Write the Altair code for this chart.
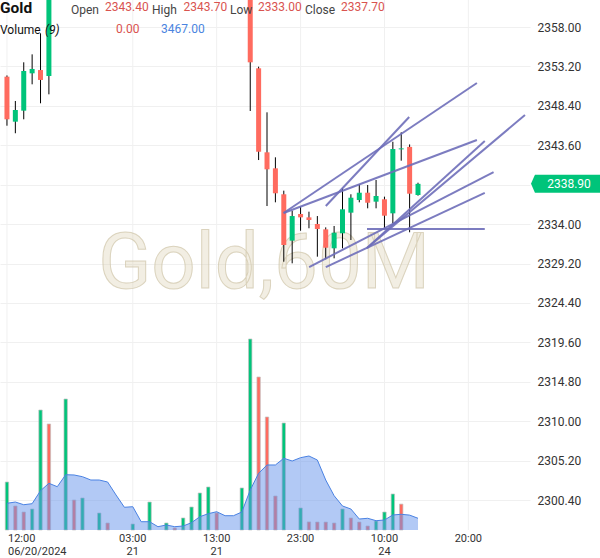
import altair as alt
import pandas as pd

# ---------------- data ----------------
idx = list(range(50))
opens = [2351.95, 2346.47, 2347.81, 2352.36, 2352.76, 2352.03, 2364.6, 2364.9, 2367.8, 2366.7,
         2367.5, 2367.3, 2367.9, 2367.4, 2367.6, 2367.5, 2367.7, 2367.6, 2366.8, 2366.9,
         2366.6, 2366.4, 2366.9, 2367.6, 2368.4, 2366.7, 2365.8, 2365.9, 2365.8, 2363.9,
         2352.97, 2342.74, 2340.79, 2337.63, 2331.98, 2335.23, 2334.82, 2334.01, 2333.36, 2331.05,
         2332.88, 2335.39, 2336.93, 2337.82, 2336.73, 2337.02, 2335.31, 2343.10, 2343.40, 2337.54]
highs = [2352.10, 2348.99, 2353.70, 2354.67, 2357.23, 2365.2, 2365.3, 2368.6, 2368.3, 2368.0,
         2367.9, 2368.2, 2368.1, 2367.8, 2367.9, 2367.9, 2368.0, 2368.9, 2367.2, 2367.4,
         2366.9, 2367.3, 2368.0, 2369.1, 2369.3, 2367.2, 2366.1, 2366.2, 2366.4, 2364.3,
         2353.17, 2347.61, 2342.13, 2338.07, 2335.63, 2336.12, 2335.51, 2334.98, 2333.60, 2333.77,
         2338.36, 2337.63, 2338.84, 2338.76, 2339.37, 2337.34, 2344.03, 2345.18, 2343.70, 2339.04]
lows = [2345.98, 2345.06, 2346.76, 2351.02, 2348.71, 2349.80, 2363.9, 2364.5, 2366.2, 2366.1,
        2367.0, 2366.8, 2367.2, 2367.0, 2367.2, 2367.1, 2367.3, 2366.4, 2366.5, 2366.3,
        2366.2, 2365.6, 2366.0, 2366.8, 2366.2, 2365.4, 2365.5, 2365.6, 2363.2, 2347.77,
        2341.80, 2336.20, 2336.65, 2329.42, 2329.22, 2333.19, 2333.49, 2330.03, 2329.71, 2329.83,
        2331.05, 2332.06, 2336.65, 2335.92, 2335.92, 2333.49, 2334.09, 2341.72, 2333.00, 2337.46]
closes = [2346.76, 2347.89, 2352.64, 2352.89, 2351.55, 2364.6, 2364.9, 2367.8, 2366.7, 2367.5,
          2367.3, 2367.9, 2367.4, 2367.6, 2367.5, 2367.7, 2367.6, 2366.8, 2366.9, 2366.6,
          2366.4, 2366.9, 2367.6, 2368.4, 2366.7, 2365.8, 2365.9, 2365.8, 2363.9, 2353.70,
          2342.81, 2340.67, 2337.75, 2331.45, 2334.98, 2334.82, 2334.50, 2333.40, 2331.12, 2332.95,
          2335.80, 2337.21, 2337.82, 2336.60, 2337.42, 2335.02, 2343.14, 2343.22, 2337.70, 2338.90]
volumes = [11180, 5590, 4190, 4890, 27960, 24700, 0, 30520, 6990, 7460,
           0, 3960, 1630, 0, 0, 1400, 0, 6520, 0, 1630,
           470, 2800, 5360, 8620, 10020, 3960, 0, 0, 9790, 44500,
           35650, 26330, 7920, 24930, 0, 5130, 1880, 1860, 1850, 1630,
           4900, 2800, 1860, 930, 2100, 4190, 8390, 6033, 0, 0]
vol_ma = [6220, 6520, 5890, 6130, 9160, 10880, 10090, 12880, 12820, 12420,
          11650, 11650, 11180, 8160, 5290, 5430, 1930, 1930, 770, 1170,
          770, 930, 1700, 3100, 3800, 4260, 3330, 3330, 4190, 9320,
          13210, 15150, 15150, 16710, 16080, 16850, 17240, 16310, 11650, 7990,
          5590, 4890, 2560, 2730, 2170, 2330, 3500, 3660, 3467, 2730]

tick_idx = [0, 15, 25, 35, 45, 55]
tick_time = ["12:00", "03:00", "13:00", "23:00", "10:00", "20:00"]
tick_date = ["06/20/2024", "21", "21", "", "24", ""]

price_ticks = [2358.00, 2353.20, 2348.40, 2343.60, 2338.80, 2334.00, 2329.20,
               2324.40, 2319.60, 2314.80, 2310.00, 2305.20, 2300.40]
last_price = 2338.90

# drawn trend lines (bar index, price)
line_x1 = [32.98, 38.01, 32.98, 42.92, 42.92, 36.02, 38.01, 42.92]
line_p1 = [2335.35, 2336.20, 2335.35, 2331.09, 2331.09, 2328.77, 2328.77, 2333.40]
line_x2 = [56.02, 47.95, 56.02, 56.96, 61.75, 58.01, 56.96, 56.96]
line_p2 = [2351.18, 2347.04, 2344.24, 2344.12, 2347.28, 2340.34, 2337.79, 2333.40]

# ---------------- styling ----------------
GREEN = "#00C47A"
RED = "#FF6B5F"
FONT = "Roboto"
W, H = 530, 530

candles = pd.DataFrame({"idx": idx, "open": opens, "high": highs, "low": lows, "close": closes})
candles["dir"] = ["up" if c >= o else "down" for o, c in zip(opens, closes)]
vol_df = pd.DataFrame({"idx": idx, "volume": volumes, "ma": vol_ma})
vol_df["vdir"] = ["up" if (i == 0 or volumes[i] > volumes[i - 1]) else "down" for i in idx]
lines_df = pd.DataFrame({"x1": line_x1, "p1": line_p1, "x2": line_x2, "p2": line_p2})
ticks_df = pd.DataFrame({"idx": tick_idx, "t": tick_time, "d": tick_date})

X = alt.Scale(domain=[-0.2339, 61.754], nice=False, zero=False)
P = alt.Scale(domain=[2296.747, 2361.288], nice=False, zero=False)
V = alt.Scale(domain=[0, 123490], nice=False, zero=True)
dir_color = alt.Color("dir:N", scale=alt.Scale(domain=["up", "down"], range=[GREEN, RED]), legend=None)

xq = alt.X("idx:Q", scale=X, axis=None)

vgrid = alt.Chart(ticks_df).mark_rule(color="#f0f0f0", strokeWidth=1).encode(x=xq)

watermark = alt.Chart(pd.DataFrame({"t": ["Gold,60M"]})).mark_text(
    font=FONT, fontSize=78, align="center", baseline="alphabetic",
    fill="#d9cdb0", fillOpacity=0.35, stroke="#cfc4a8", strokeWidth=1, strokeOpacity=0.7
).encode(x=alt.value(264), y=alt.value(288), text="t:N")

vol_bars = alt.Chart(vol_df).transform_filter("datum.volume > 0").mark_bar(
    size=3.4, stroke="#c2c2c2", strokeWidth=0.7
).encode(
    x=xq,
    y=alt.Y("volume:Q", scale=V, axis=None),
    color=alt.Color("vdir:N", scale=alt.Scale(domain=["up", "down"], range=[GREEN, RED]), legend=None),
)
vol_area = alt.Chart(vol_df).mark_area(color="#6593eb", fillOpacity=0.5).encode(
    x=xq, y=alt.Y("ma:Q", scale=V, axis=None))
vol_line = alt.Chart(vol_df).mark_line(color="#4a82e3", strokeWidth=1).encode(
    x=xq, y=alt.Y("ma:Q", scale=V, axis=None))

wicks = alt.Chart(candles).mark_rule(color="#000000", strokeWidth=1, clip=True).encode(
    x=xq,
    y=alt.Y("low:Q", scale=P, axis=alt.Axis(
        orient="right", values=price_ticks, grid=True, gridColor="#f0f0f0",
        labelExpr="abs(datum.value - 2338.8) < 0.01 ? '' : format(datum.value, '.2f')",
        domain=False, ticks=False, labelPadding=7, labelFont=FONT, labelFontSize=12,
        labelColor="#333333", title=None)),
    y2="high:Q",
)
bodies = alt.Chart(candles).mark_bar(size=5, clip=True).encode(
    x=xq, y=alt.Y("open:Q", scale=P, axis=None), y2="close:Q", color=dir_color)

trend = alt.Chart(lines_df).mark_rule(color="#6e6eb9", strokeWidth=2, opacity=0.9, clip=True).encode(
    x=alt.X("x1:Q", scale=X, axis=None), x2="x2:Q",
    y=alt.Y("p1:Q", scale=P, axis=None), y2="p2:Q")

badge_df = pd.DataFrame({"p": [last_price], "t": [f"{last_price:.2f}"]})
badge = alt.Chart(badge_df).mark_point(
    shape="M -1 0 L -0.89 -0.25 L 1 -0.25 L 1 0.25 L -0.89 0.25 Z",
    size=5184, filled=True, color=GREEN, opacity=1, strokeWidth=0
).encode(x=alt.value(567), y=alt.Y("p:Q", scale=P, axis=None))
badge_text = alt.Chart(badge_df).mark_text(
    font=FONT, fontSize=12, color="white", align="center", baseline="middle"
).encode(x=alt.value(569), y=alt.Y("p:Q", scale=P, axis=None), text="t:N")


def xlabels(field, ypos, first):
    base = alt.Chart(ticks_df).transform_filter(
        "datum.idx == 0" if first else "datum.idx != 0")
    return base.mark_text(font=FONT, fontSize=11, color="#333333", baseline="alphabetic",
                          align="left" if first else "center", dx=1 if first else 0).encode(
        x=xq, y=alt.value(ypos), text=f"{field}:N")


xlabs = [xlabels("t", 541.5, True), xlabels("t", 541.5, False),
         xlabels("d", 554.5, True), xlabels("d", 554.5, False)]


def label(txt, x, y, color, size=12, weight="normal", style="normal"):
    return alt.Chart(pd.DataFrame({"t": [txt]})).mark_text(
        font=FONT, fontSize=size, fontWeight=weight, fontStyle=style, color=color,
        align="left", baseline="alphabetic"
    ).encode(x=alt.value(x), y=alt.value(y), text="t:N")


VALRED = "#d9534f"
legend_layers = [
    label("Gold", 0, 13, "#111111", size=15.5, weight="bold"),
    label("Open", 71, 14, "#444444"),
    label("2343.40", 105, 11, VALRED),
    label("High", 152, 14, "#444444"),
    label("2343.70", 183.5, 11, VALRED),
    label("Low", 230, 14, "#444444"),
    label("2333.00", 258, 11, VALRED),
    label("Close", 305, 14, "#444444"),
    label("2337.70", 341, 11, VALRED),
    label("Volume", 0, 34, "#111111"),
    label("(9)", 45, 34, "#111111", style="italic"),
    label("0.00", 116, 32.5, VALRED),
    label("3467.00", 161, 32.5, "#4a84e0"),
]

chart = alt.layer(
    vgrid, watermark, vol_bars, vol_area, vol_line, wicks, bodies, trend,
    badge, badge_text, *xlabs, *legend_layers
).resolve_scale(y="independent").properties(
    width=W, height=H,
    padding={"left": 0, "top": 0, "right": 70, "bottom": 28},
    autosize=alt.AutoSizeParams(type="none"),
    background="white",
).configure_view(stroke=None)

chart.save("out.html", embed_options={"renderer": "svg", "actions": False})
